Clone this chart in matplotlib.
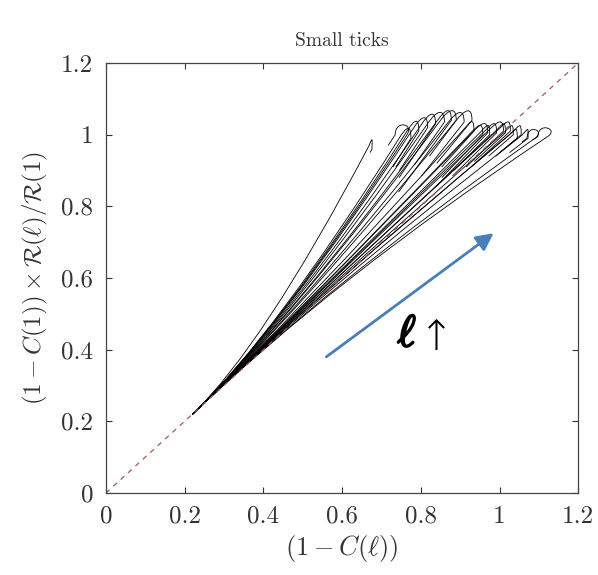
import numpy as np
import matplotlib
matplotlib.use("Agg")
import matplotlib.pyplot as plt
from matplotlib.path import Path
from matplotlib.patches import PathPatch
import matplotlib.patheffects as pe

plt.rcParams['font.family'] = 'serif'
plt.rcParams['font.serif'] = ['cmr10']
plt.rcParams['mathtext.fontset'] = 'cm'
plt.rcParams['axes.unicode_minus'] = False

# common start of all curves
x_start, y_start = 0.22, 0.22

# top of each curve (where it turns over), loop width (<0 = hooks left), length of return leg
peak_x = [0.67, 0.75, 0.76, 0.78, 0.80, 0.82, 0.84, 0.86, 0.87, 0.89, 0.91, 0.92,
          0.94, 0.95, 0.96, 0.975, 0.99, 1.00, 1.01, 1.02, 1.03, 1.04, 1.06, 1.08, 1.11]
peak_y = [0.99, 1.03, 1.02, 1.04, 1.05, 1.06, 1.065, 1.07, 1.07, 1.065, 1.07, 1.04,
          1.03, 1.035, 1.03, 1.035, 1.04, 1.035, 1.04, 1.03, 1.02, 1.03, 1.02, 1.02, 1.025]
loop_w = [0.012, -0.03, 0.03, 0.03, 0.035, 0.035, 0.04, 0.035, 0.04, 0.04, 0.04, 0.03,
          0.035, 0.04, 0.03, 0.035, 0.04, 0.03, 0.035, 0.03, 0.03, 0.03, 0.025, -0.02, -0.025]
drop = [0.01, 0.03, 0.08, 0.10, 0.12, 0.15, 0.12, 0.20, 0.10, 0.15, 0.12, 0.10,
        0.12, 0.15, 0.10, 0.12, 0.10, 0.08, 0.10, 0.06, 0.05, 0.05, 0.04, 0.01, 0.01]

ticks = [0, 0.2, 0.4, 0.6, 0.8, 1.0, 1.2]
tick_labels = ['0', '0.2', '0.4', '0.6', '0.8', '1', '1.2']

arrow_from = (0.56, 0.38)
arrow_to = (0.985, 0.725)

fig = plt.figure(figsize=(5.98, 5.75), dpi=100)
ax = fig.add_axes([0.177, 0.1426, 0.79, 0.7478])

h = 0.03
for px, py, w, d in zip(peak_x, peak_y, loop_w, drop):
    ux, uy = px - w / 2, py - h
    dx = ux - x_start
    cx, cy = x_start + 0.4 * dx, y_start + 0.4 * dx * 1.05
    v = np.array([ux - cx, uy - cy])
    v = v / np.hypot(*v)
    c1 = (ux + v[0] * h * 1.2, uy + v[1] * h * 1.2)
    c2 = (px + w / 2, py + h * 0.4)
    rx, ry = px + w / 2, py - h
    verts = [(x_start, y_start), (cx, cy), (ux, uy), c1, c2, (rx, ry),
             (rx - v[0] * d / v[1], ry - d)]
    codes = [Path.MOVETO, Path.CURVE3, Path.CURVE3, Path.CURVE4, Path.CURVE4,
             Path.CURVE4, Path.LINETO]
    ax.add_patch(PathPatch(Path(verts, codes), facecolor='none',
                           edgecolor='black', lw=0.6))

ax.plot([0, 1.2], [0, 1.2], color='#a05a5a', lw=0.9, dashes=(4, 4))

ax.annotate('', xy=arrow_to, xytext=arrow_from,
            arrowprops=dict(arrowstyle='-|>', color='#4a7ebb', lw=2,
                            mutation_scale=26, shrinkA=0, shrinkB=0))
ax.text(0.765, 0.44, r'$\ell$', fontsize=32, ha='center', va='center',
        path_effects=[pe.withStroke(linewidth=1.5, foreground='black')])
ax.text(0.84, 0.435, '\u2191', fontsize=30, ha='center', va='center',
        family='DejaVu Sans', fontweight='light')

ax.set_xlim(0, 1.2)
ax.set_ylim(0, 1.2)
ax.set_xticks(ticks)
ax.set_yticks(ticks)
ax.set_xticklabels(tick_labels)
ax.set_yticklabels(tick_labels)
ax.tick_params(direction='in', top=True, right=True, length=4, width=0.8,
               labelsize=18, pad=9, colors='#333333')
for s in ax.spines.values():
    s.set_color('#444444')
    s.set_linewidth(0.9)

ax.set_xlabel(r'$(1-C(\ell))$', fontsize=19, labelpad=4, color='#333333')
ax.set_ylabel(r'$(1-C(1))\times\mathcal{R}(\ell)/\mathcal{R}(1)$', fontsize=18,
              labelpad=8, color='#333333')
ax.set_title('Small ticks', fontsize=14, pad=12, color='#333333')

fig.savefig('out.png', dpi=100)
